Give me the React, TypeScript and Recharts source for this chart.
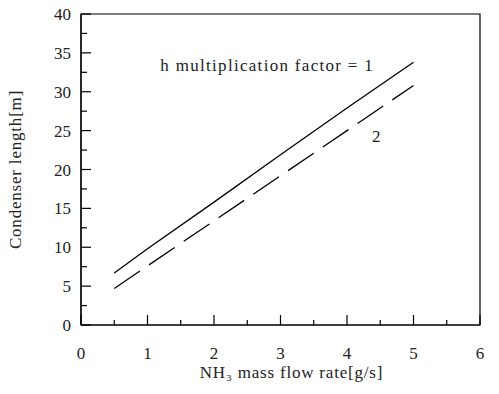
import { Label, Line, LineChart, ReferenceArea, ReferenceDot, XAxis, YAxis } from "recharts";

const SERIF = '"Liberation Serif", "DejaVu Serif", serif';

// NH3 mass flow rate [g/s] vs condenser length [m]
const flowRate = [0.5, 1, 2, 3, 4, 5];
const lengthFactor1 = [6.7, 9.8, 15.8, 21.9, 27.9, 33.8];
const lengthFactor2 = [4.7, 7.6, 13.4, 19.2, 25.0, 30.8];

const xTicks = [0, 0.5, 1, 1.5, 2, 2.5, 3, 3.5, 4, 4.5, 5, 5.5, 6];
const xLabels = [0, 1, 2, 3, 4, 5, 6];
const yTicks = [0, 2.5, 5, 7.5, 10, 12.5, 15, 17.5, 20, 22.5, 25, 27.5, 30, 32.5, 35, 37.5, 40];
const yLabels = [0, 5, 10, 15, 20, 25, 30, 35, 40];

const data = flowRate.map((q, i) => ({ q, f1: lengthFactor1[i], f2: lengthFactor2[i] }));

// ticks point into the plot; only whole values get a number
function XTick(props: any) {
  const { x, y, payload } = props;
  const major = xLabels.includes(payload.value);
  return (
    <g>
      <line x1={x} y1={y} x2={x} y2={y - (major ? 10 : 5)} stroke="#000" strokeWidth={1.2} />
      {major && (
        <text x={x} y={y + 34} textAnchor="middle" fontFamily={SERIF} fontSize={17} fill="#222">
          {payload.value}
        </text>
      )}
    </g>
  );
}

function YTick(props: any) {
  const { x, y, payload } = props;
  const major = yLabels.includes(payload.value);
  return (
    <g>
      <line x1={x} y1={y} x2={x + (major ? 10 : 6)} y2={y} stroke="#000" strokeWidth={1.2} />
      {major && (
        <text x={x - 10} y={y + 6} textAnchor="end" fontFamily={SERIF} fontSize={17} fill="#222">
          {payload.value}
        </text>
      )}
    </g>
  );
}

function note(text: string, spacing: number) {
  return ({ viewBox }: any) => (
    <text
      x={viewBox.x + (viewBox.width || 0) / 2}
      y={viewBox.y + (viewBox.height || 0) / 2}
      textAnchor="middle"
      dominantBaseline="central"
      fontFamily={SERIF}
      fontSize={17}
      letterSpacing={spacing}
      fill="#222"
    >
      {text}
    </text>
  );
}

export default function App() {
  return (
    <div style={{ position: "absolute", left: 0, top: 0, background: "#fff" }}>
      <LineChart width={499} height={394} data={data} margin={{ top: 14, right: 19, left: 0, bottom: 0 }}>
        <XAxis
          dataKey="q"
          type="number"
          domain={[0, 6]}
          ticks={xTicks}
          tick={<XTick />}
          tickSize={0}
          tickMargin={0}
          tickLine={false}
          interval={0}
          height={69}
          axisLine={{ stroke: "#000", strokeWidth: 1.2 }}
        >
          <Label
            content={({ viewBox }: any) => (
              <text
                x={viewBox.x + viewBox.width / 2 + 11}
                y={viewBox.y + 53}
                textAnchor="middle"
                fontFamily={SERIF}
                fontSize={17}
                letterSpacing={0.8}
                fill="#222"
              >
                NH₃ mass flow rate[g/s]
              </text>
            )}
          />
        </XAxis>
        <YAxis
          type="number"
          domain={[0, 40]}
          ticks={yTicks}
          tick={<YTick />}
          tickSize={0}
          tickMargin={0}
          tickLine={false}
          interval={0}
          width={81}
          axisLine={{ stroke: "#000", strokeWidth: 1.2 }}
        >
          <Label
            content={({ viewBox }: any) => {
              const cx = viewBox.x + 15;
              const cy = viewBox.y + viewBox.height / 2;
              return (
                <text
                  x={cx}
                  y={cy}
                  transform={`rotate(-90 ${cx} ${cy})`}
                  textAnchor="middle"
                  dominantBaseline="central"
                  fontFamily={SERIF}
                  fontSize={17}
                  letterSpacing={0.8}
                  fill="#222"
                >
                  Condenser length[m]
                </text>
              );
            }}
          />
        </YAxis>
        <ReferenceArea x1={0} x2={6} y1={0} y2={40} fill="none" stroke="#000" strokeWidth={1.2} />
        <Line
          dataKey="f1"
          type="linear"
          stroke="#000"
          strokeWidth={1.3}
          dot={false}
          isAnimationActive={false}
        />
        <Line
          dataKey="f2"
          type="linear"
          stroke="#000"
          strokeWidth={1.3}
          strokeDasharray="31 11"
          dot={false}
          isAnimationActive={false}
        />
        <ReferenceDot x={2.8} y={33.4} r={0} stroke="none">
          <Label content={note("h  multiplication factor = 1", 1.3)} />
        </ReferenceDot>
        <ReferenceDot x={4.44} y={24.2} r={0} stroke="none">
          <Label content={note("2", 0)} />
        </ReferenceDot>
      </LineChart>
    </div>
  );
}
